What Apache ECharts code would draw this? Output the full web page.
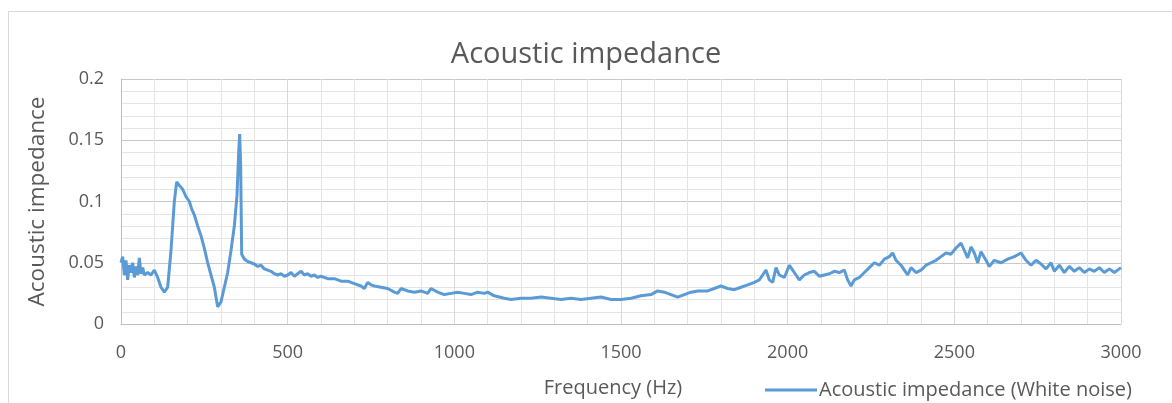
<!DOCTYPE html>
<html>
	<head>
		<meta charset="UTF-8">
		<title>Acoustic impedance</title>
		<script src="https://cdn.jsdelivr.net/npm/echarts@6/dist/echarts.min.js"></script>
	</head>
	<body style="margin:0;background:#fff;">
		<div id="main" style="width:1172px;height:403px;"></div>
		<script type="text/javascript">
			// frequency (Hz) and impedance
			var freqs = [0, 5, 10, 15, 20, 25, 30, 35, 40, 45, 50, 55, 60, 65, 70, 80, 90, 100, 110, 120, 130, 140, 150, 160, 167, 175, 185, 195, 205, 212, 220, 230, 240, 250, 260, 270, 280, 290, 300, 310, 320, 330, 340, 348, 353, 356, 359, 362, 370, 380, 390, 400, 410, 420, 430, 440, 450, 460, 470, 480, 490, 500, 510, 520, 530, 540, 550, 560, 570, 580, 590, 600, 620, 640, 660, 680, 700, 720, 730, 740, 750, 760, 780, 800, 820, 830, 840, 860, 880, 900, 920, 930, 950, 970, 990, 1010, 1030, 1050, 1070, 1090, 1100, 1120, 1150, 1170, 1200, 1230, 1260, 1290, 1320, 1350, 1380, 1410, 1440, 1470, 1500, 1530, 1560, 1590, 1610, 1630, 1650, 1670, 1690, 1710, 1730, 1760, 1780, 1800, 1820, 1840, 1860, 1880, 1900, 1915, 1925, 1935, 1945, 1955, 1965, 1975, 1990, 2005, 2015, 2025, 2035, 2050, 2065, 2080, 2095, 2110, 2125, 2140, 2155, 2170, 2180, 2190, 2200, 2215, 2230, 2245, 2260, 2275, 2290, 2305, 2315, 2325, 2340, 2350, 2360, 2370, 2385, 2400, 2415, 2430, 2445, 2460, 2475, 2490, 2505, 2520, 2530, 2540, 2550, 2560, 2570, 2580, 2595, 2605, 2620, 2640, 2660, 2680, 2700, 2715, 2730, 2745, 2760, 2775, 2790, 2800, 2815, 2830, 2845, 2860, 2875, 2890, 2905, 2920, 2935, 2950, 2965, 2980, 2990, 3000];
			var impedance = [0.050, 0.055, 0.040, 0.052, 0.036, 0.048, 0.042, 0.050, 0.038, 0.047, 0.040, 0.054, 0.041, 0.046, 0.040, 0.042, 0.040, 0.044, 0.038, 0.030, 0.026, 0.030, 0.060, 0.100, 0.116, 0.113, 0.110, 0.104, 0.100, 0.094, 0.089, 0.080, 0.072, 0.062, 0.050, 0.040, 0.030, 0.014, 0.018, 0.030, 0.042, 0.060, 0.080, 0.105, 0.140, 0.155, 0.130, 0.057, 0.053, 0.051, 0.050, 0.049, 0.047, 0.048, 0.045, 0.044, 0.043, 0.041, 0.040, 0.041, 0.039, 0.040, 0.042, 0.039, 0.041, 0.043, 0.040, 0.041, 0.039, 0.040, 0.038, 0.039, 0.037, 0.037, 0.035, 0.035, 0.033, 0.031, 0.029, 0.034, 0.032, 0.031, 0.030, 0.029, 0.026, 0.025, 0.029, 0.027, 0.026, 0.027, 0.025, 0.029, 0.026, 0.024, 0.025, 0.026, 0.025, 0.024, 0.026, 0.025, 0.026, 0.023, 0.021, 0.020, 0.021, 0.021, 0.022, 0.021, 0.020, 0.021, 0.020, 0.021, 0.022, 0.020, 0.020, 0.021, 0.023, 0.024, 0.027, 0.026, 0.024, 0.022, 0.024, 0.026, 0.027, 0.027, 0.029, 0.031, 0.029, 0.028, 0.030, 0.032, 0.034, 0.036, 0.040, 0.044, 0.036, 0.034, 0.046, 0.040, 0.038, 0.048, 0.044, 0.040, 0.036, 0.040, 0.042, 0.043, 0.039, 0.040, 0.041, 0.043, 0.042, 0.044, 0.036, 0.031, 0.036, 0.038, 0.042, 0.046, 0.050, 0.048, 0.053, 0.055, 0.058, 0.052, 0.048, 0.044, 0.040, 0.046, 0.042, 0.044, 0.048, 0.050, 0.052, 0.055, 0.058, 0.057, 0.062, 0.066, 0.060, 0.054, 0.063, 0.058, 0.050, 0.059, 0.052, 0.047, 0.052, 0.050, 0.053, 0.055, 0.058, 0.052, 0.048, 0.052, 0.049, 0.045, 0.050, 0.043, 0.048, 0.042, 0.047, 0.043, 0.046, 0.042, 0.045, 0.043, 0.046, 0.042, 0.045, 0.042, 0.044, 0.046];
			var xTicks = [0, 500, 1000, 1500, 2000, 2500, 3000];
			var yTicks = [0, 0.05, 0.1, 0.15, 0.2];

			var points = [];
			for (var i = 0; i < freqs.length; i++) {
				points.push([freqs[i], impedance[i]]);
			}

			var font = 'Open Sans';
			var textGray = '#595959';
			var myChart = echarts.init(document.getElementById('main'));
			var option = {
				animation: false,
				backgroundColor: '#fff',
				title: {
					text: 'Acoustic impedance',
					left: 'center',
					top: 35,
					textStyle: { fontFamily: font, fontSize: 29, fontWeight: 'normal', color: textGray }
				},
				graphic: [{
					type: 'rect',
					shape: { x: 8.5, y: 11.5, width: 1300, height: 500 },
					style: { fill: 'none', stroke: '#d9d9d9', lineWidth: 1 },
					silent: true,
					z: -1
				}],
				legend: {
					data: ['Acoustic impedance (White noise)'],
					left: 760,
					top: 375,
					itemWidth: 52,
					itemHeight: 3,
					itemGap: 0,
					icon: 'rect',
					textStyle: { fontFamily: font, fontSize: 20, color: textGray, padding: [0, 0, 0, -3] }
				},
				grid: { left: 121, right: 51, top: 79, bottom: 79 },
				xAxis: {
					type: 'value',
					min: 0,
					max: 3000,
					interval: 500,
					name: 'Frequency (Hz)',
					nameLocation: 'middle',
					nameGap: 54,
					nameTextStyle: { fontFamily: font, fontSize: 20, color: textGray, padding: [0, 0, 0, -16] },
					axisLine: { show: true, lineStyle: { color: '#bfbfbf' } },
					axisTick: { show: false },
					axisLabel: {
						fontFamily: font, fontSize: 18, color: textGray, margin: 20,
						formatter: function (v) { return xTicks.indexOf(v) >= 0 ? String(v) : ''; }
					},
					splitLine: { show: true, lineStyle: { color: '#d9d9d9' } },
					minorTick: { show: false, splitNumber: 5 },
					minorSplitLine: { show: true, lineStyle: { color: '#e4e4e4' } }
				},
				yAxis: {
					type: 'value',
					min: 0,
					max: 0.2,
					interval: 0.05,
					name: 'Acoustic impedance',
					nameLocation: 'middle',
					nameGap: 72,
					nameTextStyle: { fontFamily: font, fontSize: 22.5, color: textGray },
					axisLine: { show: true, lineStyle: { color: '#bfbfbf' } },
					axisTick: { show: false },
					axisLabel: {
						fontFamily: font, fontSize: 18, color: textGray, margin: 17,
						formatter: function (v) {
							for (var k = 0; k < yTicks.length; k++) {
								if (Math.abs(yTicks[k] - v) < 1e-9) return String(yTicks[k]);
							}
							return '';
						}
					},
					splitLine: { show: true, lineStyle: { color: '#c8c8c8' } },
					minorTick: { show: false, splitNumber: 5 },
					minorSplitLine: { show: true, lineStyle: { color: '#e4e4e4' } }
				},
				series: [{
					name: 'Acoustic impedance (White noise)',
					type: 'line',
					data: points,
					showSymbol: false,
					smooth: false,
					color: '#5b9bd5',
					lineStyle: { width: 3, color: '#5b9bd5' }
				}]
			};
			myChart.setOption(option);
		</script>
	</body>
</html>
